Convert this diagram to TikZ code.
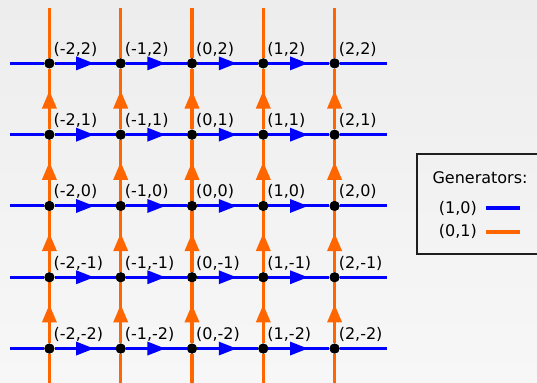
\documentclass[tikz,border=0pt]{standalone}
\usepackage{fontspec}
\setmainfont{DejaVu Sans}
\definecolor{genblue}{RGB}{0,0,255}
\definecolor{genorange}{RGB}{255,102,0}
\definecolor{bgtop}{RGB}{237,237,237}
\definecolor{bgbottom}{RGB}{247,247,247}
\definecolor{boxborder}{RGB}{30,30,30}
\usetikzlibrary{arrows.meta,positioning,decorations.markings}

\tikzset{
  gen10/.style={draw=genblue,line width=3pt},
  gen01/.style={draw=genorange,line width=3.4pt},
  midtip10/.style={postaction={decorate},decoration={markings,
      mark=at position 0.65 with {\arrow[genblue]{Triangle[length=18pt,width=13pt]}}}},
  midtip01/.style={postaction={decorate},decoration={markings,
      mark=at position 0.64 with {\arrow[genorange]{Triangle[length=18pt,width=14pt]}}}},
  gridpt/.style={circle,fill=black,inner sep=0pt,minimum size=10pt},
  ptlabel/.style={anchor=base west,inner sep=0pt,font=\fontsize{16}{19}\selectfont},
  legendtext/.style={inner sep=0pt,font=\fontsize{16}{19}\selectfont}
}

\begin{document}
\begin{tikzpicture}[x=71.3pt,y=71.3pt]
  \useasboundingbox (-2.693,-2.482) rectangle (4.839,2.889);
  \shade[top color=bgtop,bottom color=bgbottom] (-2.693,-2.482) rectangle (4.839,2.889);

  % grid points
  \foreach \c in {0,...,4}
    \foreach \r in {0,...,4}
      \node[gridpt] (n\c\r) at (\c-2,\r-2) {};

  % free ends of the lines
  \foreach \c in {0,...,4} {
    \coordinate (top\c) at (\c-2,2.777);
    \coordinate (bot\c) at (\c-2,-2.6);
  }
  \foreach \r in {0,...,4} {
    \coordinate (west\r) at (-2.553,\r-2);
    \coordinate (east\r) at (2.735,\r-2);
  }

  % generator (0,1)
  \foreach \c in {0,...,4} {
    \draw[gen01] (bot\c) -- (n\c0);
    \draw[gen01] (n\c4) -- (top\c);
    \foreach \r [evaluate=\r as \s using int(\r+1)] in {0,...,3}
      \draw[gen01,midtip01] (n\c\r) -- (n\c\s);
  }

  % generator (1,0)
  \foreach \r in {0,...,4} {
    \draw[gen10] (west\r) -- (n0\r);
    \draw[gen10] (n4\r) -- (east\r);
    \foreach \c [evaluate=\c as \d using int(\c+1)] in {0,...,3}
      \draw[gen10,midtip10] (n\c\r) -- (n\d\r);
  }

  % dots on top
  \foreach \c in {0,...,4}
    \foreach \r in {0,...,4}
      \node[gridpt] at (n\c\r) {};

  % coordinates
  \foreach \c in {0,...,4}
    \foreach \r in {0,...,4} {
      \pgfmathtruncatemacro\i{\c-2}
      \pgfmathtruncatemacro\j{\r-2}
      \node[ptlabel] (lab\c\r) at ([shift={(4pt,9pt)}]n\c\r.center) {(\i,\j)};
    }

  % legend
  \draw[boxborder,line width=1.5pt] (4.9,0.729) -- (3.156,0.729) -- (3.156,-0.673) -- (4.9,-0.673);
  \node[legendtext] (legtitle) at (4.04,0.393) {Generators:};
  \node[legendtext] (leg10) at (3.73,-0.042) {(1,0)};
  \node[legendtext] (leg01) at (3.73,-0.352) {(0,1)};
  \coordinate (sw10a) at (4.123,-0.03);
  \coordinate (sw10b) at (4.6,-0.03);
  \coordinate (sw01a) at (4.123,-0.365);
  \coordinate (sw01b) at (4.6,-0.365);
  \draw[draw=genblue,line width=4pt] (sw10a) -- (sw10b);
  \draw[draw=genorange,line width=4pt] (sw01a) -- (sw01b);
\end{tikzpicture}
\end{document}
